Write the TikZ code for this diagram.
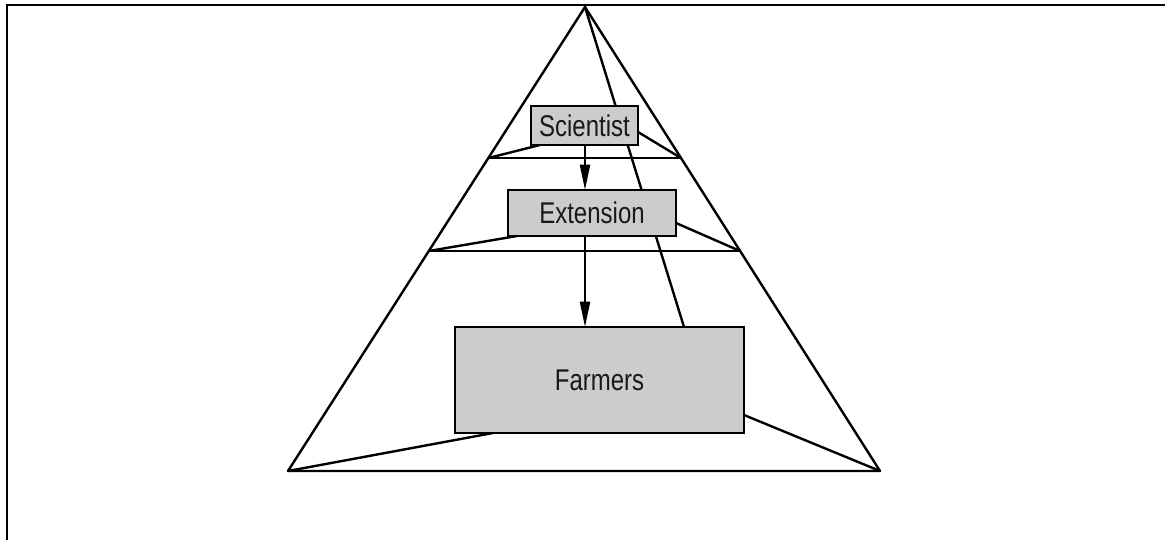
\documentclass[tikz,border=0pt]{standalone}
\usepackage{fontspec}
\setmainfont{Liberation Sans}[FakeStretch=0.8]
\usetikzlibrary{arrows.meta,backgrounds,calc}
\begin{document}
\begin{tikzpicture}[x=0.75pt,y=-0.75pt,
  ln/.style={line width=1.8pt,line join=round},
  lvlbox/.style={draw,line width=1.9pt,fill=boxgray,inner sep=0pt,outer sep=0pt,
    text=black!90,font=\fontsize{22.5}{26}\selectfont},
  arr/.style={line width=1.6pt,-{Triangle[length=19pt,width=7.5pt]}}]
\definecolor{boxgray}{HTML}{CCCCCC}
\useasboundingbox (0,0) rectangle (1165,540);
% frame
\draw[line width=1.8pt] (7,540) -- (7,5) -- (1165,5);
% corner points
\coordinate (apex) at (585,7);
\coordinate (bl) at (288,471);
\coordinate (br) at (880,471);
\coordinate (l1) at (488.4,158);
\coordinate (r1) at (681,158);
\coordinate (l2) at (428.8,251);
\coordinate (r2) at (740,251);
% boxes
\node[lvlbox,minimum width=80.25pt,minimum height=29.25pt] (sci) at (584.5,125.5) {Scientist};
\node[lvlbox,minimum width=126pt,minimum height=34.5pt] (ext) at (592,213) {Extension};
\node[lvlbox,minimum width=216.75pt,minimum height=79.5pt] (far) at (599.5,380) {Farmers};
\begin{scope}[on background layer]
\draw[ln] (apex) -- (bl) -- (br) -- cycle;
\draw[ln] (l1) -- (r1);
\draw[ln] (l2) -- (r2);
\draw[ln] (apex) -- ($(far.north west)+(229,0)$);
\draw[ln] ($(sci.south west)+(9,0)$) -- (l1);
\draw[ln] ($(sci.north east)+(0,26)$) -- (r1);
\draw[ln] ($(ext.south west)+(9,0)$) -- (l2);
\draw[ln] ($(ext.north east)+(0,33)$) -- (r2);
\draw[ln] ($(far.south west)+(38,0)$) -- (bl);
\draw[ln] ($(far.north east)+(0,88)$) -- (br);
\end{scope}
% arrows
\coordinate (ax) at (585,0);
\draw[arr] (sci.south -| ax) -- (ext.north -| ax);
\draw[arr] (ext.south -| ax) -- (far.north -| ax);
\end{tikzpicture}
\end{document}
